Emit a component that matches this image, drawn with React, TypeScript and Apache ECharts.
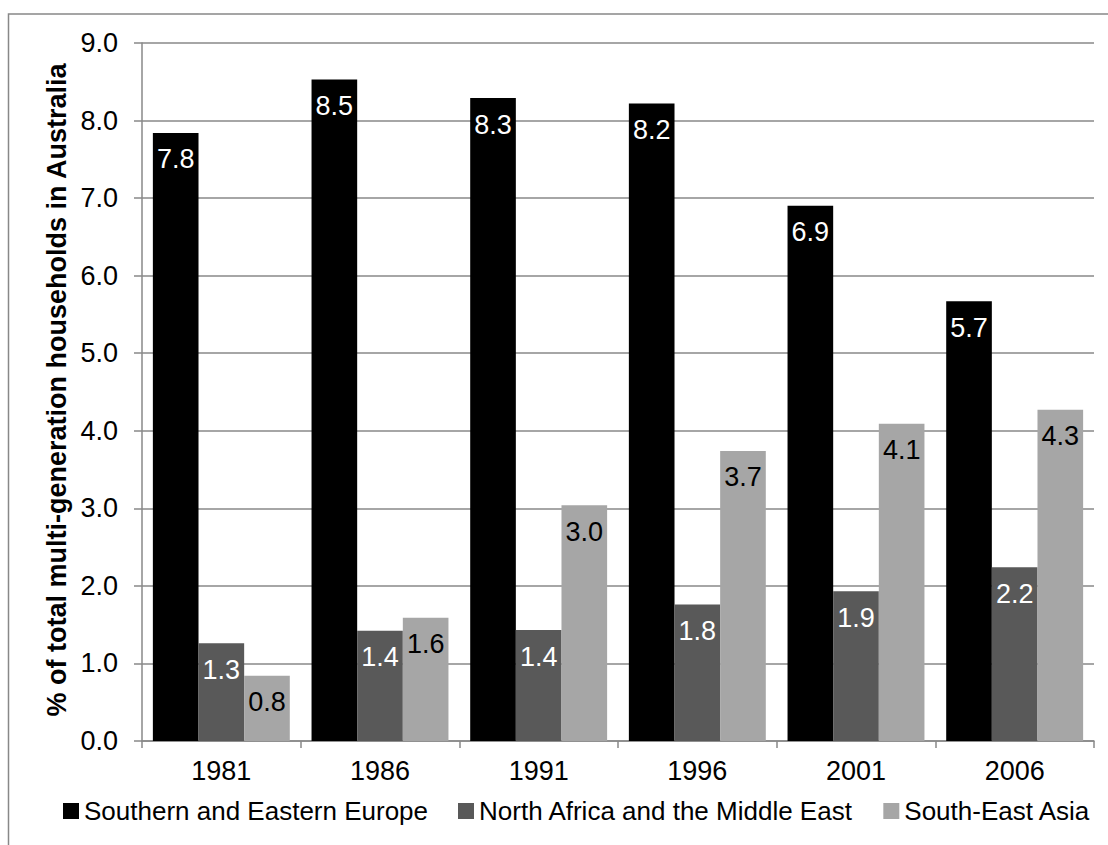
import React, { useEffect, useRef } from "react";
import * as echarts from "echarts";

const years = ["1981", "1986", "1991", "1996", "2001", "2006"];
const seriesNames = [
  "Southern and Eastern Europe",
  "North Africa and the Middle East",
  "South-East Asia",
];
const southernEasternEurope = [7.84, 8.53, 8.29, 8.22, 6.9, 5.67];
const northAfricaMiddleEast = [1.26, 1.42, 1.43, 1.76, 1.93, 2.24];
const southEastAsia = [0.84, 1.59, 3.04, 3.74, 4.09, 4.27];
const yTicks = { min: 0, max: 9, interval: 1 };
const yTitle = "% of total multi-generation households in Australia";

const colors = ["#000000", "#595959", "#a6a6a6"];
const labelColors = ["#ffffff", "#ffffff", "#000000"];
const FONT = "'Liberation Sans', Arial, sans-serif";

export default function App() {
  const ref = useRef<HTMLDivElement>(null);
  useEffect(() => {
    if (!ref.current) return;
    const chart = echarts.init(ref.current, null, { renderer: "svg" });
    const data = [southernEasternEurope, northAfricaMiddleEast, southEastAsia];
    chart.setOption({
      animation: false,
      backgroundColor: "#ffffff",
      textStyle: { fontFamily: FONT },
      grid: { left: 142, top: 43, right: 14, bottom: 104, containLabel: false },
      legend: {
        left: 58,
        top: 793,
        itemWidth: 16,
        itemHeight: 16,
        itemGap: 30,
        icon: "rect",
        textStyle: { fontSize: 26, color: "#000", fontFamily: FONT },
        data: seriesNames,
      },
      xAxis: {
        type: "category",
        data: years,
        axisLine: { lineStyle: { color: "#888888", width: 1.5 } },
        axisTick: { show: true, length: 7, lineStyle: { color: "#888888", width: 1.5 } },
        axisLabel: { fontSize: 27, color: "#000", margin: 16, fontFamily: FONT },
      },
      yAxis: {
        type: "value",
        min: yTicks.min,
        max: yTicks.max,
        interval: yTicks.interval,
        axisLine: { show: true, lineStyle: { color: "#888888", width: 1.5 } },
        axisTick: { show: true, length: 8, lineStyle: { color: "#888888", width: 1.5 } },
        splitLine: { show: true, lineStyle: { color: "#888888", width: 1.5 } },
        axisLabel: {
          fontSize: 27,
          color: "#000",
          margin: 24,
          fontFamily: FONT,
          formatter: (v: number) => v.toFixed(1),
        },
      },
      graphic: [
        {
          type: "rect",
          shape: { x: 8.5, y: 14, width: 1300, height: 1000 },
          style: { fill: "none", stroke: "#888888", lineWidth: 1.5 },
          silent: true,
        },
        {
          type: "text",
          x: 57,
          y: 390,
          rotation: Math.PI / 2,
          style: {
            text: yTitle,
            font: `bold 27px ${FONT}`,
            fill: "#000",
            textAlign: "center",
            textVerticalAlign: "middle",
          },
        },
      ],
      series: seriesNames.map((name, i) => ({
        name,
        type: "bar",
        data: data[i],
        barGap: "0%",
        barCategoryGap: "13.7%",
        itemStyle: { color: colors[i] },
        label: {
          show: true,
          position: "insideTop",
          distance: 13,
          color: labelColors[i],
          fontSize: 27,
          fontFamily: FONT,
          formatter: (p: any) => Number(p.value).toFixed(1),
        },
      })),
    });
    return () => chart.dispose();
  }, []);
  return (
    <div
      ref={ref}
      style={{ position: "absolute", left: 0, top: 0, width: 1108, height: 845 }}
    />
  );
}
